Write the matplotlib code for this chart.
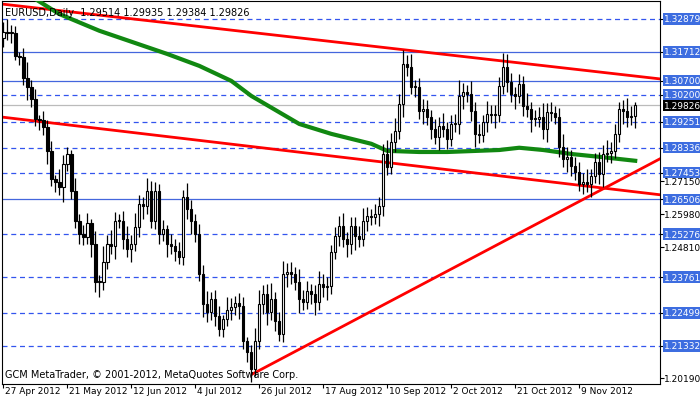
import matplotlib
matplotlib.use("Agg")
import matplotlib.pyplot as plt
import matplotlib.transforms as mtransforms

closes = [1.3242,1.3238,1.3238,1.3157,1.3154,1.3080,1.3048,1.3006,1.2935,1.2931,
1.2907,1.2822,1.2723,1.2713,1.2695,1.2776,1.2811,1.2681,1.2575,1.2529,
1.2518,1.2568,1.2494,1.2360,1.2360,1.2430,1.2494,1.2487,1.2575,1.2575,
1.2511,1.2476,1.2494,1.2554,1.2635,1.2628,1.2681,1.2575,1.2681,1.2529,
1.2547,1.2494,1.2487,1.2469,1.2448,1.2660,1.2617,1.2575,1.2529,1.2388,
1.2282,1.2254,1.2300,1.2240,1.2194,1.2229,1.2261,1.2271,1.2285,1.2275,
1.2151,1.2112,1.2052,1.2151,1.2282,1.2317,1.2254,1.2300,1.2222,1.2176,
1.2388,1.2395,1.2388,1.2360,1.2300,1.2289,1.2328,1.2317,1.2289,1.2352,
1.2342,1.2346,1.2465,1.2522,1.2557,1.2511,1.2494,1.2557,1.2522,1.2511,
1.2575,1.2593,1.2589,1.2600,1.2628,1.2811,1.2766,1.2854,1.2893,1.2988,
1.3129,1.3118,1.3048,1.3048,1.2963,1.2970,1.2942,1.2900,1.2871,1.2910,
1.2900,1.2864,1.2917,1.2917,1.3016,1.3030,1.3023,1.2963,1.2882,1.2878,
1.2924,1.2953,1.2949,1.2949,1.3051,1.3118,1.3066,1.3023,1.3016,1.3058,
1.2981,1.2970,1.2935,1.2935,1.2942,1.2900,1.2960,1.2956,1.2942,1.2836,
1.2794,1.2801,1.2769,1.2748,1.2705,1.2713,1.2705,1.2734,1.2783,1.2741,
1.2811,1.2815,1.2822,1.2882,1.2970,1.2963,1.2942,1.2945,1.29826]
first_open = 1.3220
up_wick = [35,45,30,25,15,30,55,25,35,15,30,25,35,15,45,30,25,15,45,25,
30,35,15,45,25,55,30,50,30,25,35,45,30,50,30,25,45,35,30,25,
30,15,35,25,30,25,50,30,25,35,30,45,25,30,35,15,45,30,25,35,
30,15,25,45,50,30,35,55,25,30,45,30,35,25,45,30,35,25,30,45,
35,30,25,30,35,45,25,30,30,35,45,30,25,35,30,35,50,30,45,35,
50,30,45,25,30,35,30,25,35,30,45,25,30,35,55,30,25,45,30,35,
25,45,30,35,30,50,45,30,25,35,30,45,25,30,35,50,30,35,25,30,
45,35,25,30,35,30,45,25,30,35,30,45,30,35,25,30,45,35,11]
down_wick = [30,25,35,15,30,25,45,30,25,35,30,45,25,35,30,55,25,30,25,35,
30,25,45,35,55,30,25,30,45,25,35,30,45,25,35,45,30,25,30,35,
25,45,30,35,25,30,35,45,30,25,45,35,30,35,25,30,25,35,30,45,
30,35,45,25,30,35,45,30,35,25,30,45,35,30,50,30,25,35,45,30,
35,45,30,25,35,30,45,35,50,30,25,35,30,25,45,35,30,25,35,30,
45,30,25,35,30,45,30,35,25,45,30,35,25,30,35,45,30,35,45,30,
25,35,30,45,25,30,35,30,45,25,35,30,45,25,30,35,45,30,25,35,
30,45,35,30,25,35,30,45,25,35,45,30,35,25,30,45,35,30,44]

ma_idx = [8,14,24,41,49,57,62,74,82,92,96,104,111,124,129,135,142,149,158]
ma_val = [1.3358,1.3305,1.3246,1.3164,1.3122,1.3069,1.3016,1.2917,1.2882,1.2847,1.2822,
          1.2818,1.2818,1.2825,1.2833,1.2825,1.2811,1.2801,1.2787]

trend_upper = ([-0.8, 164.2], [1.3341, 1.3076])
trend_mid = ([-0.8, 164.2], [1.2942, 1.2667])
trend_rise = ([62.4, 164.2], [1.2035, 1.2794])

solid_levels = [1.31712, 1.30700, 1.26506]
dashed_levels = [1.32879, 1.30200, 1.29251, 1.28336, 1.27453, 1.25276, 1.23761, 1.22499, 1.21332]
current = 1.29826
plain_ticks = [1.27150, 1.25980, 1.24810, 1.20190]

date_idx = [0,16,32,48,64,80,96,112,128,144]
date_labels = ["27 Apr 2012","21 May 2012","12 Jun 2012","4 Jul 2012","26 Jul 2012",
               "17 Aug 2012","10 Sep 2012","2 Oct 2012","21 Oct 2012","9 Nov 2012"]

fig = plt.figure(figsize=(7.0, 4.02), dpi=100)
ax = fig.add_axes([2/700, 17/402, 658/700, 383/402])
ax.set_xlim(-0.33, 164.2)
ax.set_ylim(1.1999, 1.3351)

for lv in solid_levels:
    ax.axhline(lv, color="#4466dd", lw=0.9, zorder=1)
for lv in dashed_levels:
    ax.axhline(lv, color="#3355ee", lw=0.9, ls=(0, (4, 3)), zorder=1)
ax.axhline(current, color="#bbbbbb", lw=0.9, zorder=1)

ax.plot(*trend_upper, color="#ff0000", lw=2, zorder=2)
ax.plot(*trend_mid, color="#ff0000", lw=2, zorder=2)
ax.plot(*trend_rise, color="#ff0000", lw=2, zorder=2)
ax.plot(ma_idx, ma_val, color="#118811", lw=3, zorder=3)

prev = first_open
for i, c in enumerate(closes):
    o = prev
    hi = max(o, c) + up_wick[i] / 10000
    lo = min(o, c) - down_wick[i] / 10000
    ax.vlines(i, lo, hi, color="black", lw=0.9, zorder=4)
    bull = c >= o
    h = max(abs(c - o), 0.0003)
    ax.bar(i, h, bottom=min(o, c), width=0.6, color="white" if bull else "black",
           edgecolor="black", lw=0.8, zorder=5)
    prev = c

ax.set_xticks(date_idx)
ax.set_xticklabels([])
ax.tick_params(axis="x", length=3, direction="out")
xtr = mtransforms.blended_transform_factory(ax.transData, ax.transAxes)
for i, lab in zip(date_idx, date_labels):
    ax.text(i + 0.4, -0.006, lab, transform=xtr, ha="left", va="top", fontsize=6.5)
ax.yaxis.tick_right()
ax.set_yticks(plain_ticks + solid_levels + dashed_levels)
ax.set_yticklabels([])
ax.tick_params(axis="y", length=3, direction="out")
tr = mtransforms.blended_transform_factory(ax.transAxes, ax.transData)
for lv in plain_ticks:
    ax.text(1.006, lv, f"{lv:.5f}", transform=tr, ha="left", va="center", fontsize=6.5)
for lv in solid_levels + dashed_levels:
    ax.text(1.006, lv, f"{lv:.5f}", transform=tr, ha="left", va="center", fontsize=6.5, color="white",
            bbox=dict(boxstyle="square,pad=0.15", fc="#3d6de0", ec="none"))
ax.text(1.006, current, f"{current:.5f}", transform=tr, ha="left", va="center", fontsize=6.5, color="white",
        bbox=dict(boxstyle="square,pad=0.15", fc="black", ec="none"))

ax.text(0.005, 0.985, "EURUSD,Daily  1.29514 1.29935 1.29384 1.29826", transform=ax.transAxes,
        ha="left", va="top", fontsize=7)
ax.text(0.005, 0.012, "GCM MetaTrader, © 2001-2012, MetaQuotes Software Corp.", transform=ax.transAxes,
        ha="left", va="bottom", fontsize=7)
for s in ax.spines.values():
    s.set_linewidth(0.8)

fig.savefig("out.png", dpi=100)
